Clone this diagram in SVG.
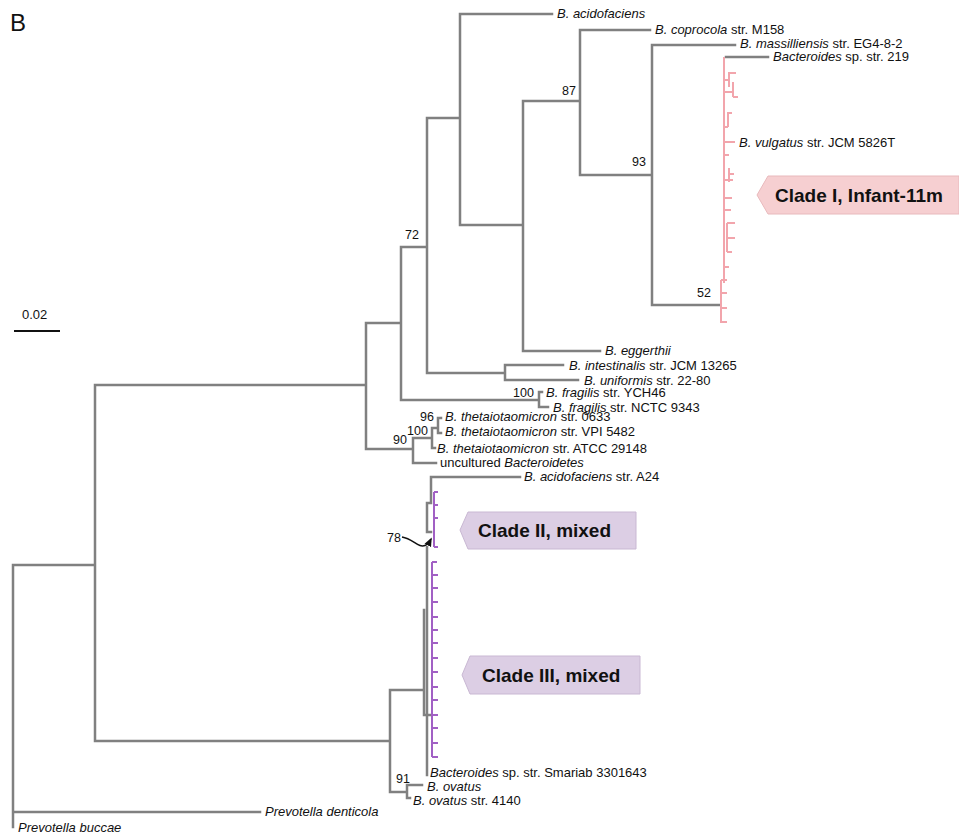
<svg xmlns="http://www.w3.org/2000/svg" width="959" height="835" viewBox="0 0 959 835">
<defs>
<style>
.br{fill:none;stroke:#808080;stroke-width:2.5;stroke-linecap:square}
.pk{fill:none;stroke:#f2a5ac;stroke-width:2}
.pu{fill:none;stroke:#a160c4;stroke-width:2}
.lb{font-family:"Liberation Sans",Arial,sans-serif;font-size:13px;fill:#111}
.bs{font-family:"Liberation Sans",Arial,sans-serif;font-size:12.5px;fill:#111}
.i{font-style:italic}
.cl{font-family:"Liberation Sans",Arial,sans-serif;font-size:19px;font-weight:bold;fill:#111}
</style>
<marker id="ah" viewBox="0 0 10 10" refX="8" refY="5" markerWidth="6" markerHeight="6" orient="auto">
<path d="M0,1 L10,5 L0,9 z" fill="#111"/>
</marker>
</defs>
<rect width="959" height="835" fill="#fff"/>
<text x="10" y="31" font-family="Liberation Sans, Arial, sans-serif" font-size="24" fill="#111">B</text>
<g id="scale">
<text class="lb" x="22" y="319">0.02</text>
<line x1="14" y1="331" x2="60" y2="331" stroke="#111" stroke-width="2"/>
</g>
<g id="connectors">
<path class="br" d="M13,565 V827 M13,812 H260 M13,565 H95 M95,385 V741 M95,385 H366 M95,741 H390
M366,323 V449 M366,323 H401 M401,247 V400 M401,247 H427 M401,400 H539 M539,392 V407 M539,392 H542 M539,407 H548
M427,118 V373 M427,118 H460 M427,373 H505 M505,365 V380 M505,365 H563 M505,380 H578
M460,14 V225 M460,14 H552 M460,225 H523 M523,101 V351 M523,351 H600 M523,101 H580
M580,30 V175 M580,30 H650 M580,175 H652 M652,45 V305 M652,45 H735 M652,305 H720 M726,57 H768
M366,449 H413 M413,438 V463 M413,438 H432 M413,463 H436 M432,428 V448 M432,448 H435 M432,428 H438 M438,418 V433 M438,418 H441 M438,433 H441
M390,690 V792 M390,690 H424 M424,610 V715 M424,715 H431
M427,547 V775 M427,503 V532 M427,503 H431 M427,532 H431 M431,477 V503 M431,477 H520
M390,792 H407 M407,785 V798 M407,785 H422 M407,798 H410"/>
<path class="pk" d="M724,57 V283 M721,280 V323 M721,280 H727 M721,293 H727 M721,308 H727 M721,322 H727
M729,72 V87 M733,82 V97 M729,73 H736 M733,97 H738 M724,80 H729 M724,92 H733
M728,112 V127 M728,113 H732 M724,127 H728 M724,142 H735 M724,155 H729
M729,168 V182 M729,174 H734 M724,180 H733 M724,198 H732 M724,210 H731
M727,223 V252 M727,223 H735 M727,238 H735 M727,252 H732 M724,267 H729"/>
<path class="pu" d="M434,492 V547 M434,492 H438 M434,505 H438 M434,518 H438 M434,547 H438
M432,562 V757 M432,562 H437 M432,575 H438 M432,588 H438 M432,602 H438 M432,617 H438 M432,630 H438 M432,643 H438 M432,658 H438 M432,672 H438 M432,687 H438 M432,700 H438 M432,715 H438 M432,728 H438 M432,743 H438 M432,757 H438"/>
<path d="M402,537 C414,539 418,549 426,545 C429,543 430,541 431,539" fill="none" stroke="#111" stroke-width="1.5" marker-end="url(#ah)"/>
</g>
<g id="bootstrap">
<text class="bs" x="562" y="95">87</text>
<text class="bs" x="632" y="166">93</text>
<text class="bs" x="405" y="239">72</text>
<text class="bs" x="697" y="297">52</text>
<text class="bs" x="513" y="397">100</text>
<text class="bs" x="420" y="421">96</text>
<text class="bs" x="407" y="435">100</text>
<text class="bs" x="393" y="444">90</text>
<text class="bs" x="387" y="542">78</text>
<text class="bs" x="396" y="783">91</text>
</g>
<g id="n-acidofaciens"><text class="lb" x="557" y="18"><tspan class="i">B. acidofaciens</tspan></text></g>
<g id="n-coprocola"><text class="lb" x="655" y="34"><tspan class="i">B. coprocola</tspan> str. M158</text></g>
<g id="n-massilliensis"><text class="lb" x="740" y="48"><tspan class="i">B. massilliensis</tspan> str. EG4-8-2</text></g>
<g id="n-sp219"><text class="lb" x="773" y="61"><tspan class="i">Bacteroides</tspan> sp. str. 219</text></g>
<g id="n-vulgatus"><text class="lb" x="739" y="147"><tspan class="i">B. vulgatus</tspan> str. JCM 5826T</text></g>
<g id="n-eggerthii"><text class="lb" x="605" y="355"><tspan class="i">B. eggerthii</tspan></text></g>
<g id="n-intestinalis"><text class="lb" x="569" y="370"><tspan class="i">B. intestinalis</tspan> str. JCM 13265</text></g>
<g id="n-uniformis"><text class="lb" x="584" y="385"><tspan class="i">B. uniformis</tspan> str. 22-80</text></g>
<g id="n-fragilis1"><text class="lb" x="546" y="397"><tspan class="i">B. fragilis</tspan> str. YCH46</text></g>
<g id="n-fragilis2"><text class="lb" x="553" y="412"><tspan class="i">B. fragilis</tspan> str. NCTC 9343</text></g>
<g id="n-theta1"><text class="lb" x="445" y="421"><tspan class="i">B. thetaiotaomicron</tspan> str. 0633</text></g>
<g id="n-theta2"><text class="lb" x="445" y="436"><tspan class="i">B. thetaiotaomicron</tspan> str. VPI 5482</text></g>
<g id="n-theta3"><text class="lb" x="437" y="453"><tspan class="i">B. thetaiotaomicron</tspan> str. ATCC 29148</text></g>
<g id="n-uncultured"><text class="lb" x="440" y="467">uncultured <tspan class="i">Bacteroidetes</tspan></text></g>
<g id="n-a24"><text class="lb" x="524" y="481"><tspan class="i">B. acidofaciens</tspan> str. A24</text></g>
<g id="n-smariab"><text class="lb" x="430" y="777"><tspan class="i">Bacteroides</tspan> sp. str. Smariab 3301643</text></g>
<g id="n-ovatus"><text class="lb" x="427" y="791"><tspan class="i">B. ovatus</tspan></text></g>
<g id="n-ovatus4140"><text class="lb" x="413" y="805"><tspan class="i">B. ovatus</tspan> str. 4140</text></g>
<g id="n-denticola"><text class="lb" x="265" y="816"><tspan class="i">Prevotella denticola</tspan></text></g>
<g id="n-buccae"><text class="lb" x="18" y="832"><tspan class="i">Prevotella buccae</tspan></text></g>
<g id="clade1">
<polygon points="757,195 768,176 959,176 959,214 768,214" fill="#f6cfd1" stroke="#e8b9bc" stroke-width="1"/>
<text class="cl" x="775" y="202">Clade I, Infant-11m</text>
</g>
<g id="clade2">
<polygon points="460,530 468,512 636,512 636,549 468,549" fill="#dccee4" stroke="#c9b8d3" stroke-width="1"/>
<text class="cl" x="478" y="537">Clade II, mixed</text>
</g>
<g id="clade3">
<polygon points="462,675 470,656 640,656 640,694 470,694" fill="#dccee4" stroke="#c9b8d3" stroke-width="1"/>
<text class="cl" x="482" y="682">Clade III, mixed</text>
</g>
</svg>
